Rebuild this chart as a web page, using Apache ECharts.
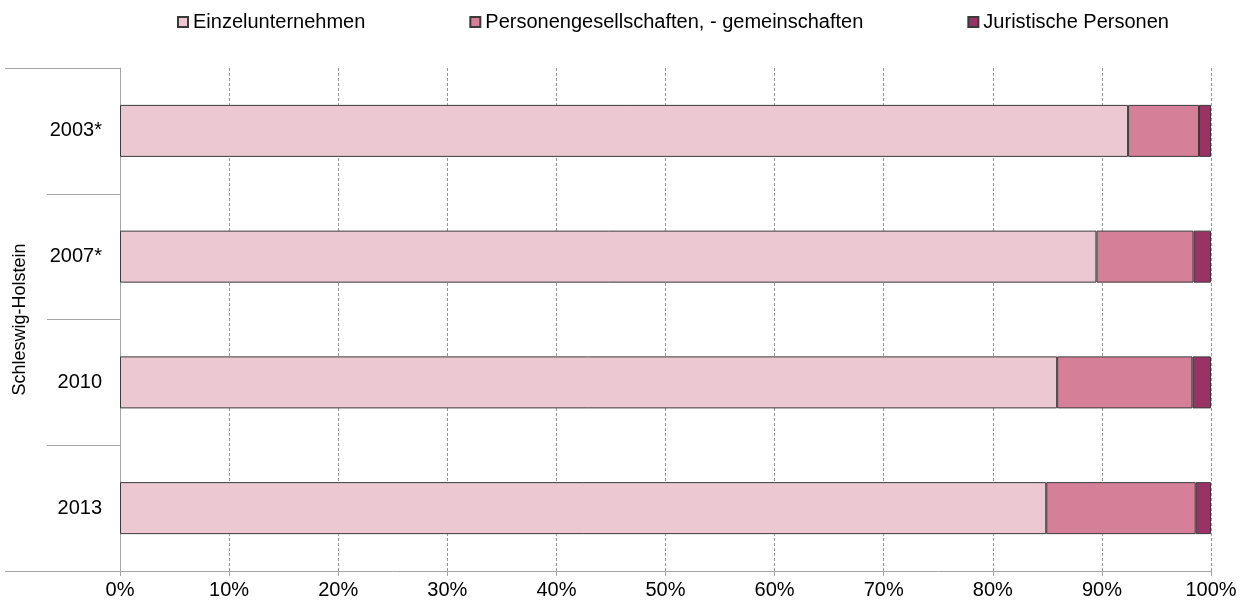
<!DOCTYPE html>
<html>
<head>
<meta charset="utf-8">
<style>
  html, body { margin: 0; padding: 0; background: #fff; }
  #myChart { width: 1246px; height: 607px; }
</style>
<script src="https://cdn.jsdelivr.net/npm/echarts@6/dist/echarts.min.js"></script>
</head>
<body>
<div id="myChart"></div>
<script>
// Kategorien (oben nach unten)
const years = ['2003*', '2007*', '2010', '2013']
const regionName = 'Schleswig-Holstein'

// Anteile in %
const einzel = [92.4, 89.5, 85.9, 84.9]
const personen = [6.5, 8.9, 12.4, 13.7]
const juristisch = [1.1, 1.6, 1.7, 1.4]

const seriesNames = ['Einzelunternehmen', 'Personengesellschaften, - gemeinschaften', 'Juristische Personen']
const seriesColors = ['#ecc8d3', '#d67f99', '#993366']

const fontFamily = '"Liberation Sans", Arial, sans-serif'
const axisGray = '#a6a6a6'

let myChart = echarts.init(document.getElementById('myChart'))

function barSeries(name, data, color) {
  return {
    name: name,
    type: 'bar',
    stack: 'total',
    barWidth: 52,
    data: data,
    itemStyle: {
      color: color,
      borderColor: '#3a3a3a',
      borderWidth: 1,
    },
  }
}

myChart.setOption({
  animation: false,
  textStyle: { fontFamily: fontFamily },
  legend: {
    top: 7,
    left: 172,
    itemGap: 104,
    itemWidth: 10,
    itemHeight: 10,
    icon: 'rect',
    textStyle: { fontSize: 20, color: '#000', fontFamily: fontFamily },
    data: seriesNames,
  },
  grid: {
    left: 120,
    right: 35,
    top: 68,
    bottom: 36,
  },
  xAxis: {
    type: 'value',
    min: 0,
    max: 100,
    interval: 10,
    axisLabel: {
      formatter: '{value}%',
      fontSize: 20,
      color: '#000',
      margin: 9,
    },
    axisLine: { show: true, lineStyle: { color: axisGray } },
    axisTick: { show: true, length: 5, lineStyle: { color: axisGray } },
    splitLine: {
      show: true,
      lineStyle: { color: '#999', type: [3, 2], width: 1 },
    },
  },
  yAxis: [
    {
      type: 'category',
      inverse: true,
      data: years,
      position: 'left',
      name: regionName,
      nameLocation: 'middle',
      nameRotate: 90,
      nameGap: 91,
      nameTextStyle: { fontSize: 18, color: '#000' },
      axisLine: { show: true, lineStyle: { color: axisGray } },
      axisTick: { show: true, interval: 0, length: 73, lineStyle: { color: axisGray } },
      axisLabel: { fontSize: 20, color: '#000', margin: 18 },
      splitLine: { show: false },
    },
    {
      // nur für die langen Linien oben und unten
      type: 'category',
      data: [''],
      position: 'left',
      axisLine: { show: false },
      axisTick: { show: true, interval: 0, length: 115, lineStyle: { color: axisGray } },
      axisLabel: { show: false },
      splitLine: { show: false },
    },
  ],
  series: [
    barSeries(seriesNames[0], einzel, seriesColors[0]),
    barSeries(seriesNames[1], personen, seriesColors[1]),
    barSeries(seriesNames[2], juristisch, seriesColors[2]),
  ],
})
</script>
</body>
</html>
